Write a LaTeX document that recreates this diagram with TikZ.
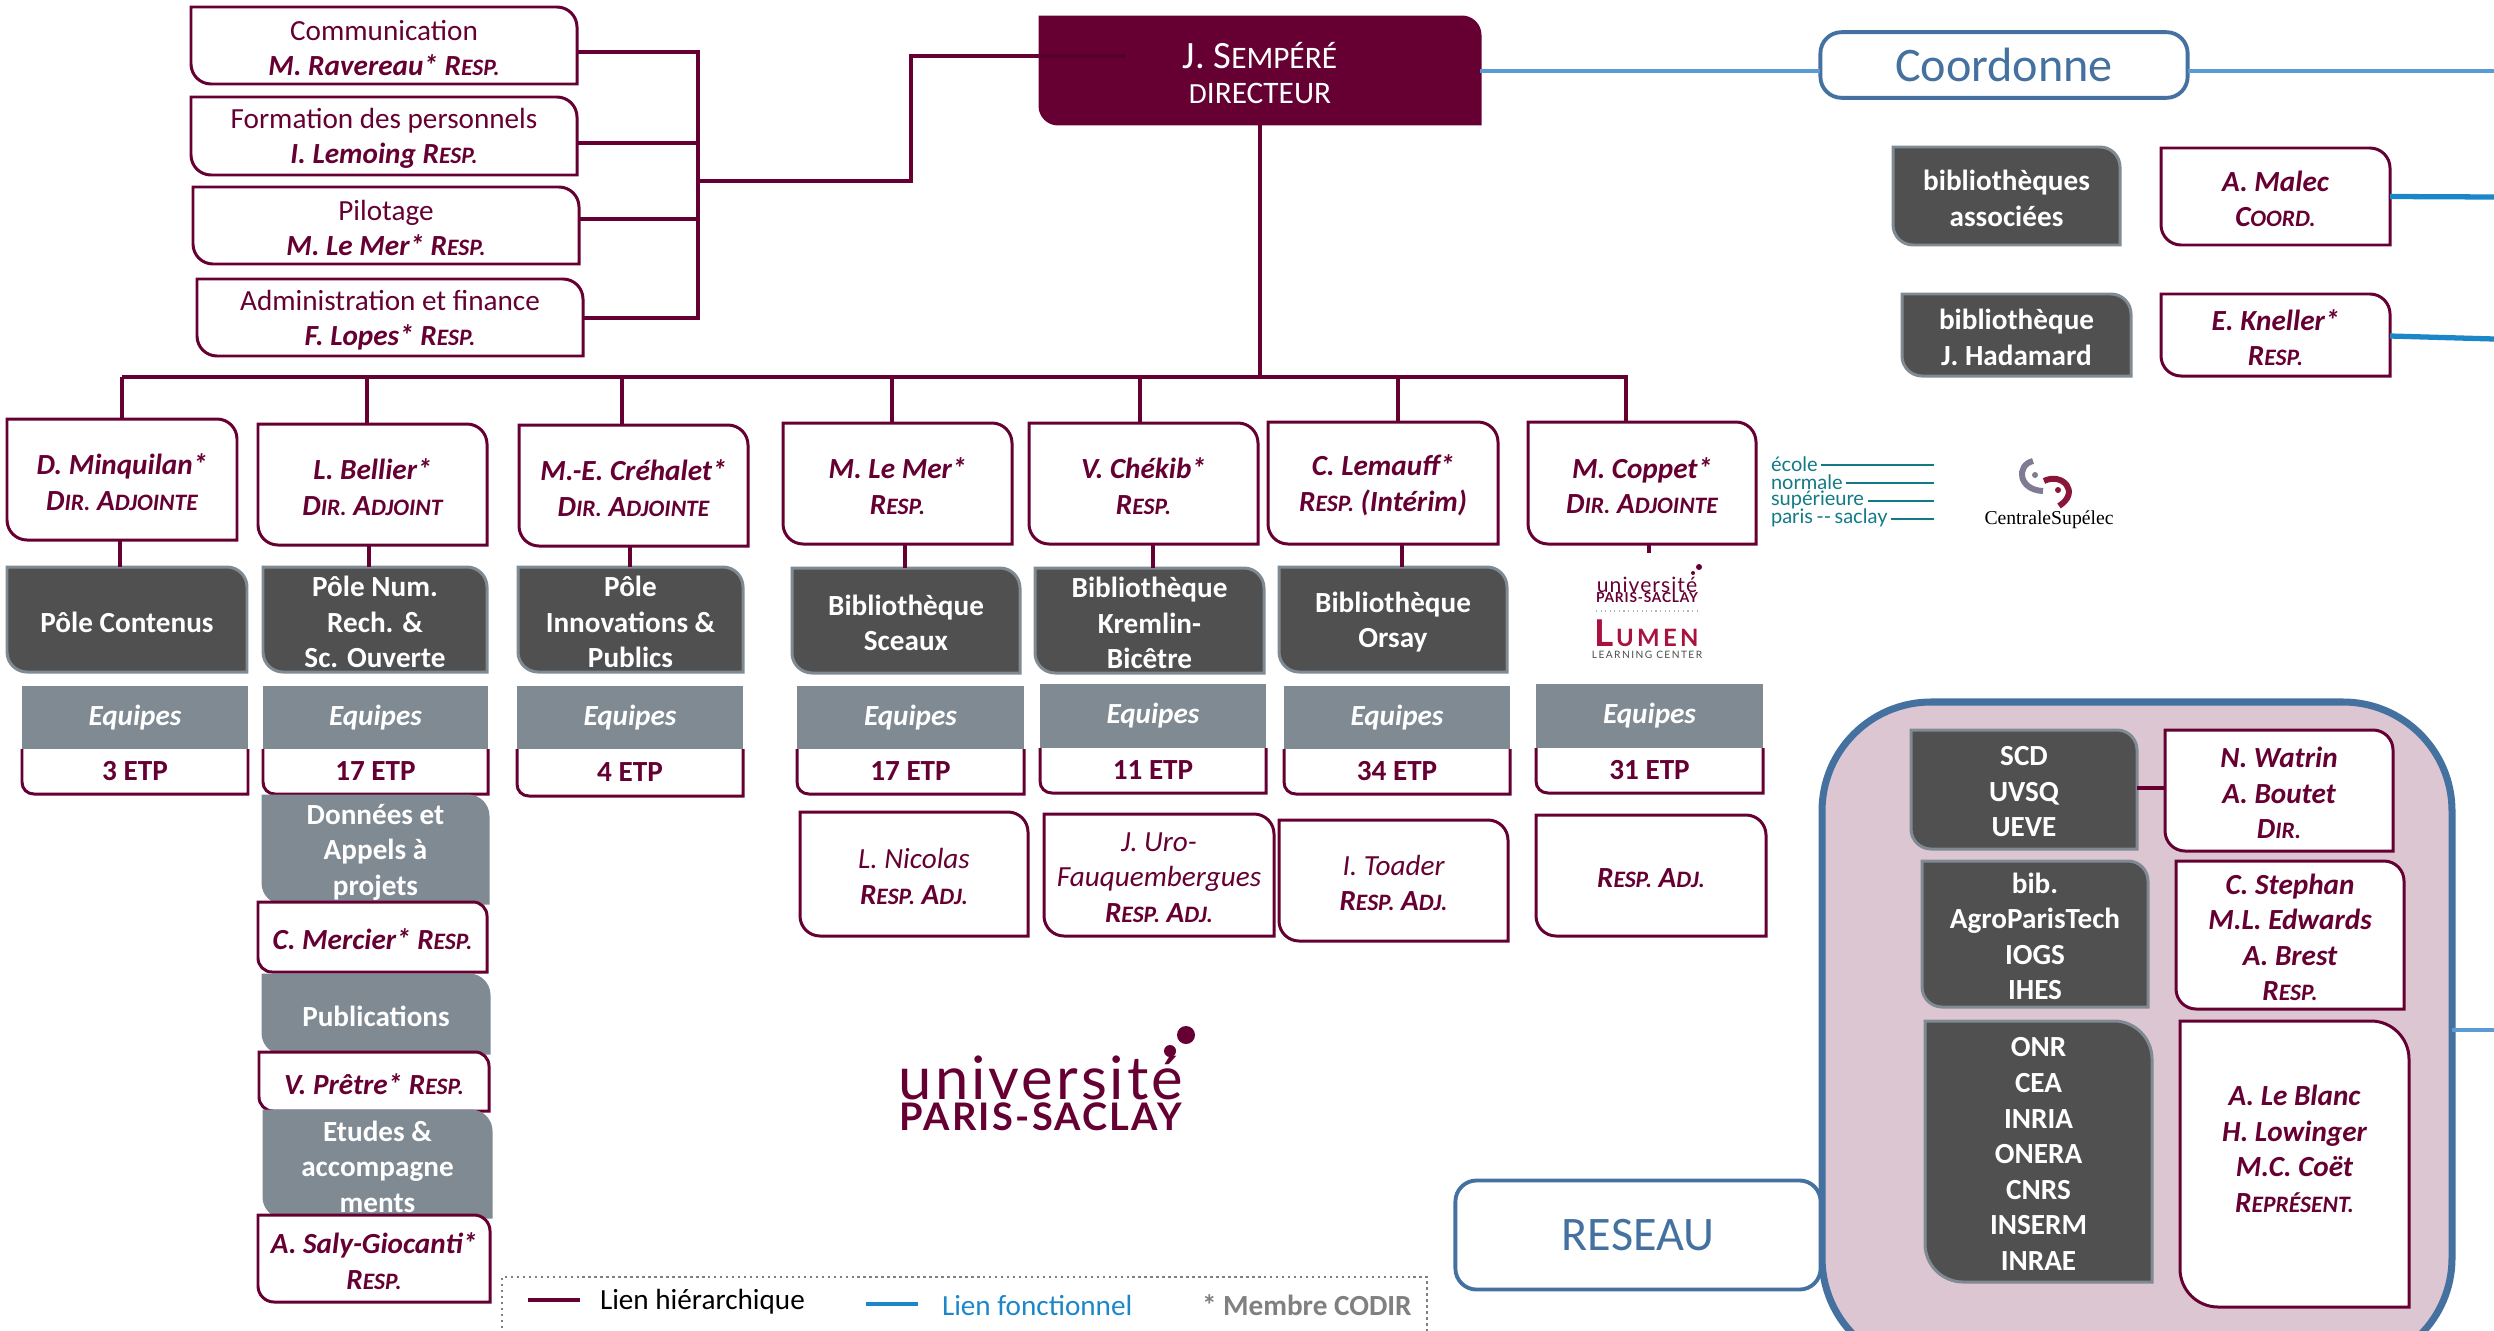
\documentclass[tikz,border=0pt]{standalone}
\usepackage{fontspec}
\setmainfont{Carlito}
\newfontfamily\logofont{Lato}
\newfontfamily\logoserif{Liberation Serif}
\usetikzlibrary{calc}

\definecolor{maroon}{HTML}{660033}
\definecolor{darkbg}{HTML}{505050}
\definecolor{slate}{HTML}{7F8A93}
\definecolor{netblue}{HTML}{44719F}
\definecolor{linkblue}{HTML}{5B9BD5}
\definecolor{strongblue}{HTML}{1B87C9}
\definecolor{netbg}{HTML}{DCC6D2}
\definecolor{teal}{HTML}{117A85}
\definecolor{lumen}{HTML}{A8123F}
\definecolor{centralegrey}{HTML}{7E7B93}
\definecolor{centralered}{HTML}{8A1538}

\tikzset{
  every node/.style={font=\fontsize{8.3}{10.1}\selectfont,inner sep=0pt,outer sep=0pt,align=center},
  hier/.style={draw=maroon,line width=1.35pt},
  funct/.style={draw=linkblue,line width=1.1pt},
  functstrong/.style={draw=strongblue,line width=1.5pt},
  respbox/.style={draw=maroon,line width=0.85pt,fill=white,text=maroon},
  dirbox/.style={draw=maroon,line width=0.85pt,fill=maroon,text=white},
  darkbox/.style={draw=slate,line width=0.85pt,fill=darkbg,text=white,font=\fontsize{8.3}{10.1}\selectfont\bfseries},
  greybox/.style={draw=slate,line width=0.85pt,fill=slate,text=white,font=\fontsize{8.3}{10.1}\selectfont\bfseries},
  bluebox/.style={draw=netblue,line width=1.1pt,rounded corners=6pt,fill=white,text=netblue,font=\fontsize{13.7}{15}\selectfont,anchor=center},
  etpline/.style={draw=maroon,line width=0.85pt,fill=white},
  etphead/.style={fill=slate,text=white,font=\fontsize{8.3}{10.1}\selectfont\bfseries\itshape},
  etptext/.style={text=maroon,font=\fontsize{8.3}{10.1}\selectfont\bfseries},
}

% box with two rounded corners: [radius]{style}{name}{x0}{y0}{x1}{y1}{text}
\newcommand{\orgbox}[8][20]{
  \path[#2] (#4,#5) -- ({#6-#1},#5) .. controls ({#6-.45*#1},#5) and (#6,{#5+.45*#1}) .. (#6,{#5+#1})
    -- (#6,#7) -- ({#4+#1},#7) .. controls ({#4+.45*#1},#7) and (#4,{#7-.45*#1}) .. (#4,{#7-#1}) -- cycle;
  \node[minimum width={(#6-#4)*0.01cm},minimum height={(#7-#5)*0.01cm}] (#3) at ({(#4+#6)/2},{(#5+#7)/2}) {};
  \node[#2,draw=none,fill=none] (#3text) at ([yshift=-0.7pt]#3.center) {#8};
}
% team block: {name}{x0}{x1}{y0}{y1}{y2}{text}
\newcommand{\etpbox}[7]{
  \path[etpline] (#2,#5) -- (#2,{#6-12}) .. controls (#2,{#6-5}) and ({#2+5},#6) .. ({#2+12},#6) -- (#3,#6) -- (#3,#5);
  \node[etphead,minimum width={(#3-#2)*0.01cm},minimum height={(#5-#4)*0.01cm}] (#1h) at ({(#2+#3)/2},{(#4+#5)/2}) {Equipes};
  \node[etptext,minimum width={(#3-#2)*0.01cm},minimum height={(#6-#5)*0.01cm}] (#1) at ({(#2+#3)/2},{(#5+#6)/2}) {#7};
}
\newcommand{\who}[1]{{\bfseries\itshape #1}}
\newcommand{\fc}[2]{{\bfseries\itshape #1{\fontsize{6.7}{10.1}\selectfont #2}}}
\newcommand{\dc}[2]{#1{\fontsize{8.9}{12.8}\selectfont #2}}

\begin{document}
\begin{tikzpicture}[x=0.01cm,y=-0.01cm]
\useasboundingbox (0,0) rectangle (2494,1330);
\clip (0,0) rectangle (2494,1330);

\coordinate (barT) at (698,52);
\coordinate (barF) at (698,143);
\coordinate (barM) at (698,181);
\coordinate (barP) at (698,219);
\coordinate (barB) at (698,318);
\coordinate (elbowA) at (911,181);
\coordinate (elbowB) at (911,56);
\coordinate (busA) at (122,377);
\coordinate (busB) at (367,377);
\coordinate (busC) at (622,377);
\coordinate (busD) at (892,377);
\coordinate (busE) at (1140,377);
\coordinate (busF) at (1398,377);
\coordinate (busG) at (1626,377);

% top row
\orgbox{respbox}{communication}{191}{7}{577}{84}{Communication\\\who{M. Ravereau*} \fc{R}{ESP.}}
\orgbox{respbox}{formation}{191}{97}{577}{175}{Formation des personnels\\\who{I. Lemoing} \fc{R}{ESP.}}
\orgbox{respbox}{pilotage}{193}{187}{579}{264}{Pilotage\\\who{M. Le Mer*} \fc{R}{ESP.}}
\orgbox{respbox}{administration}{197}{279}{583}{356}{Administration et finance\\\who{F. Lopes*} \fc{R}{ESP.}}
\orgbox[18]{dirbox}{director}{1040}{17}{1480}{124}{\fontsize{11}{12.8}\selectfont \dc{J. S}{EMPÉRÉ}\\\dc{D}{IRECTEUR}}

\draw[hier] (barT -| communication.east) -- (barT) -- (barB) -- (barB -| administration.east);
\draw[hier] (barF -| formation.east) -- (barF);
\draw[hier] (barP -| pilotage.east) -- (barP);
\draw[hier] (barM) -- (elbowA) -- (elbowB) -- (elbowB -| director.west);
\draw[draw=maroon!85!black,line width=1.2pt] (elbowB -| director.west) -- ++(86,0);

% managers
\orgbox{respbox}{minquilan}{7}{419}{237}{540}{\who{D. Minquilan*}\\\fc{D}{IR.} \fc{A}{DJOINTE}}
\orgbox{respbox}{bellier}{258}{424}{487}{545}{\who{L. Bellier*}\\\fc{D}{IR.} \fc{A}{DJOINT}}
\orgbox{respbox}{crehalet}{519}{425}{748}{546}{\who{M.-E. Créhalet*}\\\fc{D}{IR.} \fc{A}{DJOINTE}}
\orgbox{respbox}{lemer}{783}{423}{1012}{544}{\who{M. Le Mer*}\\\fc{R}{ESP.}}
\orgbox{respbox}{chekib}{1029}{423}{1258}{544}{\who{V. Chékib*}\\\fc{R}{ESP.}}
\orgbox{respbox}{lemauff}{1268}{422}{1498}{544}{\who{C. Lemauff*}\\\fc{R}{ESP.} \who{(Intérim)}}
\orgbox{respbox}{coppet}{1528}{422}{1756}{544}{\who{M. Coppet*}\\\fc{D}{IR.} \fc{A}{DJOINTE}}

\draw[hier] (busA) -- (busG) -- (busG |- coppet.north);
\draw[hier] (director.south) -- (director.south |- busA);
\draw[hier] (busA) -- (busA |- minquilan.north);
\draw[hier] (busB) -- (busB |- bellier.north);
\draw[hier] (busC) -- (busC |- crehalet.north);
\draw[hier] (busD) -- (busD |- lemer.north);
\draw[hier] (busE) -- (busE |- chekib.north);
\draw[hier] (busF) -- (busF |- lemauff.north);

% poles
\orgbox{darkbox}{contenus}{7}{567}{247}{672}{Pôle Contenus}
\orgbox{darkbox}{polenum}{263}{567}{487}{672}{Pôle Num.\\Rech. \&\\Sc. Ouverte}
\orgbox{darkbox}{innovations}{518}{567}{743}{672}{Pôle\\Innovations \&\\Publics}
\orgbox{darkbox}{sceaux}{792}{568}{1020}{673}{Bibliothèque\\Sceaux}
\orgbox{darkbox}{kremlin}{1035}{568}{1264}{673}{Bibliothèque\\Kremlin-\\Bicêtre}
\orgbox{darkbox}{orsay}{1279}{567}{1507}{672}{Bibliothèque\\Orsay}

\draw[hier] (minquilan.south -| 120,0) -- (contenus.north -| 120,0);
\draw[hier] (bellier.south -| 369,0) -- (polenum.north -| 369,0);
\draw[hier] (crehalet.south -| 630,0) -- (innovations.north -| 630,0);
\draw[hier] (lemer.south -| 905,0) -- (sceaux.north -| 905,0);
\draw[hier] (chekib.south -| 1153,0) -- (kremlin.north -| 1153,0);
\draw[hier] (lemauff.south -| 1402,0) -- (orsay.north -| 1402,0);
\draw[hier] (coppet.south -| 1649,0) -- (1649,553);

% teams
\etpbox{etpA}{22}{248}{686}{749}{794}{3 ETP}
\etpbox{etpB}{263}{488}{686}{749}{794}{17 ETP}
\etpbox{etpC}{517}{743}{686}{749}{796}{4 ETP}
\etpbox{etpD}{797}{1024}{686}{749}{794}{17 ETP}
\etpbox{etpE}{1040}{1266}{684}{748}{793}{11 ETP}
\etpbox{etpF}{1284}{1510}{686}{749}{794}{34 ETP}
\etpbox{etpG}{1536}{1763}{684}{748}{793}{31 ETP}

% under the teams
\orgbox{respbox}{nicolas}{800}{812}{1028}{936}{{\itshape L. Nicolas}\\\fc{R}{ESP.} \fc{A}{DJ.}}
\orgbox{respbox}{uro}{1044}{814}{1274}{936}{{\itshape J. Uro-}\\{\itshape Fauquembergues}\\\fc{R}{ESP.} \fc{A}{DJ.}}
\orgbox{respbox}{toader}{1279}{820}{1508}{941}{{\itshape I. Toader}\\\fc{R}{ESP.} \fc{A}{DJ.}}
\orgbox{respbox}{respadj}{1536}{815}{1766}{936}{\fc{R}{ESP.} \fc{A}{DJ.}}

\orgbox{greybox}{donnees}{263}{796}{488}{903}{Données et\\Appels à\\projets}
\orgbox[14]{respbox}{mercier}{258}{902}{487}{972}{\who{C. Mercier*} \fc{R}{ESP.}}
\orgbox{greybox}{publications}{263}{975}{489}{1053}{Publications}
\orgbox[14]{respbox}{pretre}{259}{1052}{489}{1111}{\who{V. Prêtre*} \fc{R}{ESP.}}
\orgbox{greybox}{etudes}{264}{1111}{491}{1217}{Etudes \&\\accompagne\\ments}
\orgbox[16]{respbox}{saly}{258}{1215}{490}{1302}{\who{A. Saly-Giocanti*}\\\fc{R}{ESP.}}

% big logo
\node[text=maroon,font=\logofont\fontsize{17}{17}\selectfont\addfontfeatures{LetterSpace=5}] (bigunivtext) at (1041,1078) {université};
\node[text=maroon,font=\logofont\fontsize{10.8}{11}\selectfont\bfseries\addfontfeatures{LetterSpace=6}] (bigsaclay) at (1041,1117) {PARIS-SACLAY};
\fill[maroon] (1186,1035) circle (9);
\fill[maroon] (1170,1051) circle (6);

% legend
\draw[gray,densely dotted,line width=0.7pt] (502,1340) -- (502,1277) -- (1427,1277) -- (1427,1340);
\coordinate (keyhA) at (528,1300);
\coordinate (keyhB) at (580,1300);
\coordinate (keyfA) at (866,1304);
\coordinate (keyfB) at (918,1304);
\draw[hier] (keyhA) -- (keyhB);
\node[anchor=west] (keyhier) at (600,1302) {Lien hiérarchique};
\draw[draw=strongblue,line width=1.2pt] (keyfA) -- (keyfB);
\node[anchor=west,text=strongblue] (keyfunc) at (942,1305) {Lien fonctionnel};
\node[anchor=west,text=gray,font=\fontsize{8.3}{10.1}\selectfont\bfseries] (keycodir) at (1202,1305) {* Membre CODIR};

% right side
\draw[fill=netbg,draw=netblue,line width=2pt,rounded corners=31pt] (1822,702) rectangle (2452,1367);
\node[bluebox,minimum width=3.67cm,minimum height=0.656cm] (coordonne) at (2004,65) {Coordonne};
\node[bluebox,minimum width=3.65cm,minimum height=1.09cm] (reseau) at (1638,1235) {RESEAU};
\coordinate (edgeA) at (2494,71);
\coordinate (edgeB) at (2494,197);
\coordinate (edgeC) at (2494,339);
\coordinate (edgeD) at (2494,1030);
\draw[funct] (edgeA -| director.east) -- (edgeA -| coordonne.west);
\draw[funct] (edgeA -| coordonne.east) -- (edgeA);
\draw[funct] (edgeD -| 2452,0) -- (edgeD);

\orgbox{darkbox}{associees}{1893}{147}{2120}{245}{bibliothèques\\associées}
\orgbox{respbox}{malec}{2161}{148}{2390}{245}{\who{A. Malec}\\\fc{C}{OORD.}}
\orgbox{darkbox}{hadamard}{1902}{294}{2131}{376}{bibliothèque\\J. Hadamard}
\orgbox{respbox}{kneller}{2161}{294}{2390}{376}{\who{E. Kneller*}\\\fc{R}{ESP.}}
\draw[functstrong] (malec.east) -- (edgeB);
\draw[functstrong] (kneller.east) ++(0,1) -- (edgeC);

\orgbox{darkbox}{scd}{1911}{730}{2137}{849}{SCD\\UVSQ\\UEVE}
\orgbox{respbox}{watrin}{2165}{730}{2393}{851}{\who{N. Watrin}\\\who{A. Boutet}\\\fc{D}{IR.}}
\orgbox{darkbox}{agro}{1922}{861}{2148}{1007}{bib.\\AgroParisTech\\IOGS\\IHES}
\orgbox{respbox}{stephan}{2176}{861}{2404}{1009}{\who{C. Stephan}\\\who{M.L. Edwards}\\\who{A. Brest}\\\fc{R}{ESP.}}
\orgbox[38]{darkbox}{onr}{1925}{1021}{2152}{1282}{ONR\\CEA\\INRIA\\ONERA\\CNRS\\INSERM\\INRAE}
\orgbox[38]{respbox}{leblanc}{2180}{1021}{2409}{1307}{\who{A. Le Blanc}\\\who{H. Lowinger}\\\who{M.C. Coët}\\\fc{R}{EPRÉSENT.}\\~}
\draw[hier] (scd.east |- 0,788) -- (watrin.west |- 0,788);

% ecole logo
\node[anchor=west,text=teal,font=\logofont\fontsize{5.7}{6}\selectfont] (ecole) at (1771,464) {école};
\node[anchor=west,text=teal,font=\logofont\fontsize{5.7}{6}\selectfont] (normale) at (1771,482) {normale};
\node[anchor=west,text=teal,font=\logofont\fontsize{5.7}{6}\selectfont] (superieure) at (1771,500) {supérieure};
\node[anchor=west,text=teal,font=\logofont\fontsize{5.7}{6}\selectfont] (parisclay) at (1771,518) {paris\,--\,saclay};
\draw[teal,line width=0.5pt] ([xshift=1pt]ecole.east |- 0,465) -- (1934,465);
\draw[teal,line width=0.5pt] ([xshift=1pt]normale.east |- 0,483) -- (1934,483);
\draw[teal,line width=0.5pt] ([xshift=1pt]superieure.east |- 0,501) -- (1934,501);
\draw[teal,line width=0.5pt] ([xshift=1pt]parisclay.east |- 0,519) -- (1934,519);

% centrale logo
\draw[centralegrey,line width=1.7pt] (2033,461) .. controls (2016,465) and (2018,490) .. (2043,491);
\draw[centralered,line width=1.7pt] (2044,481) .. controls (2062,472) and (2081,492) .. (2059,506);
\fill[centralegrey] (2035,475) circle (3);
\fill[centralered] (2058,490) circle (3);
\node[font=\logoserif\fontsize{5.6}{6}\selectfont] (centrale) at (2049,520) {CentraleSupélec};

% small logo
\node[text=maroon,font=\logofont\fontsize{6}{6}\selectfont\addfontfeatures{LetterSpace=5}] (smunivtext) at (1647,585) {université};
\node[text=maroon,font=\logofont\fontsize{3.9}{4}\selectfont\bfseries\addfontfeatures{LetterSpace=6}] (smsaclay) at (1647,598) {PARIS-SACLAY};
\fill[maroon] (1699,567) circle (3);
\fill[maroon] (1693,573) circle (2);
\draw[gray!60,densely dotted,line width=0.3pt] (1596,611) -- (1700,611);
\node[anchor=west,text=lumen,font=\logofont\fontsize{10.5}{10}\selectfont\bfseries] (lumenL) at (1594,633) {L};
\node[anchor=west,text=lumen,font=\logofont\fontsize{6.8}{7}\selectfont\bfseries\addfontfeatures{LetterSpace=14}] (lumentext) at (1616,638) {UMEN};
\node[text=black!70,font=\logofont\fontsize{2.9}{3}\selectfont\addfontfeatures{LetterSpace=14}] (lumensub) at (1647,655) {LEARNING CENTER};
\end{tikzpicture}
\end{document}
